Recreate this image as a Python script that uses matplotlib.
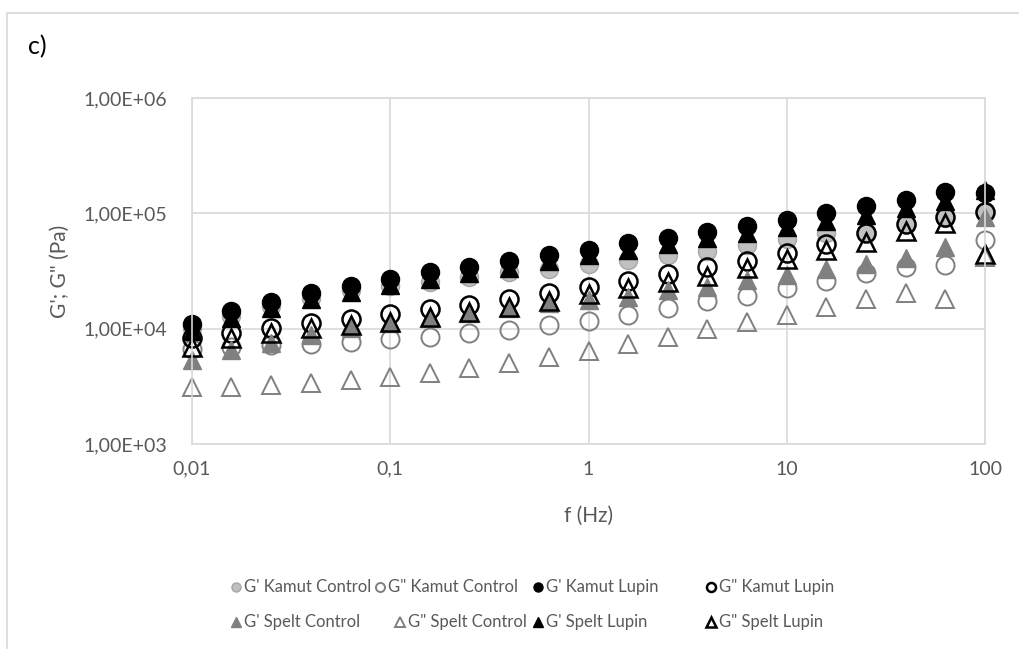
import matplotlib.pyplot as plt
from matplotlib.lines import Line2D
from matplotlib.patches import Rectangle

plt.rcParams['font.family'] = ['Lato', 'DejaVu Sans']

# frequency sweep, 5 points per decade
freq = [0.01, 0.0158, 0.0251, 0.0398, 0.0631, 0.1, 0.158, 0.251, 0.398, 0.631,
        1, 1.58, 2.51, 3.98, 6.31, 10, 15.8, 25.1, 39.8, 63.1, 100]

# storage (G') and loss (G'') moduli, Pa
kamut_ctrl_g1 = [10100, 12900, 15700, 18500, 21700, 23500, 25600, 27900, 30800, 33000, 36400,
                 39400, 43600, 47500, 53200, 60000, 66900, 69000, 80100, 90700, 105000]
kamut_ctrl_g2 = [6670, 6940, 7150, 7300, 7670, 8090, 8520, 9120, 9740, 10800, 11700,
                 13100, 15000, 17500, 19200, 22500, 25900, 30400, 34300, 35700, 59200]
kamut_lup_g1 = [11000, 14200, 17200, 20400, 23500, 27000, 31000, 34500, 38700, 43600, 48200,
                55400, 61500, 69400, 78200, 87700, 101000, 116000, 131000, 153000, 150000]
kamut_lup_g2 = [8300, 9120, 10100, 11100, 12100, 13300, 14700, 16100, 18100, 20300, 22800,
                26100, 29600, 34100, 38700, 45600, 54600, 67200, 80900, 93600, 103000]
spelt_ctrl_g1 = [5350, 6540, 7470, 8820, 10100, 11100, 12300, 13600, 15000, 16600, 17900,
                 19000, 21700, 23100, 26500, 29200, 33000, 36400, 40600, 50600, 92100]
spelt_ctrl_g2 = [3140, 3140, 3250, 3360, 3590, 3840, 4150, 4590, 5070, 5720, 6380,
                 7370, 8520, 9880, 11400, 13100, 15500, 18000, 20500, 18000, 41900]
spelt_lup_g1 = [9550, 12400, 15100, 18100, 20800, 23900, 27000, 30400, 33600, 38700, 43600,
                48200, 54300, 61200, 67600, 76200, 85900, 96800, 111000, 127000, 158000]
spelt_lup_g2 = [6980, 8260, 9120, 10100, 10800, 11500, 12700, 14000, 15500, 17500, 20000,
                22400, 25600, 28700, 33400, 40400, 47900, 56800, 70100, 82600, 44500]

labels = ["G' Kamut Control", 'G" Kamut Control', "G' Kamut Lupin", 'G" Kamut Lupin',
          "G' Spelt Control", 'G" Spelt Control', "G' Spelt Lupin", 'G" Spelt Lupin']
series = [kamut_ctrl_g1, kamut_ctrl_g2, kamut_lup_g1, kamut_lup_g2,
          spelt_ctrl_g1, spelt_ctrl_g2, spelt_lup_g1, spelt_lup_g2]
styles = [
    dict(marker='o', mfc='#c0c0c0', mec='#a6a6a6', mew=1.0),
    dict(marker='o', mfc='none', mec='#808080', mew=1.4),
    dict(marker='o', mfc='black', mec='black', mew=1.0),
    dict(marker='o', mfc='none', mec='black', mew=1.8),
    dict(marker='^', mfc='#808080', mec='#808080', mew=1.0),
    dict(marker='^', mfc='none', mec='#808080', mew=1.4),
    dict(marker='^', mfc='black', mec='black', mew=1.0),
    dict(marker='^', mfc='none', mec='black', mew=1.8),
]

grid_c = '#d9d9d9'
text_c = '#595959'
W, H = 1019, 649

fig = plt.figure(figsize=(W / 100, H / 100), dpi=100)
ax = fig.add_axes([192 / W, 1 - 444 / H, 793 / W, 346 / H])

for vals, lab, st in zip(series, labels, styles):
    ax.plot(freq, vals, linestyle='none', ms=13, label=lab, clip_on=False, **st)

ax.set_xscale('log')
ax.set_yscale('log')
ax.set_xlim(0.01, 100)
ax.set_ylim(1e3, 1e6)
ax.set_xticks([0.01, 0.1, 1, 10, 100])
ax.set_xticklabels(['0,01', '0,1', '1', '10', '100'])
ax.set_yticks([1e3, 1e4, 1e5, 1e6])
ax.set_yticklabels(['1,00E+03', '1,00E+04', '1,00E+05', '1,00E+06'])
ax.minorticks_off()
ax.tick_params(length=0, labelsize=14, colors=text_c)
ax.tick_params(axis='y', pad=18)
ax.tick_params(axis='x', pad=12)
ax.grid(True, color=grid_c, lw=1.2)
ax.set_axisbelow(True)
for s in ax.spines.values():
    s.set_color(grid_c)
    s.set_linewidth(1.2)

ax.set_xlabel('f (Hz)', fontsize=15, color=text_c, labelpad=20)
ax.set_ylabel("G'; G\" (Pa)", fontsize=15, color=text_c, labelpad=10)

fig.text(28 / W, 1 - 47 / H, 'c)', fontsize=18, color='black', va='center')

# outer chart frame
fig.patches.append(Rectangle((7 / W, -0.1), 1.2, 1 - 13 / H + 0.1, transform=fig.transFigure,
                             fill=False, edgecolor=grid_c, lw=1.2))

# legend laid out as two rows of four entries (marker x, row y) in pixels
legend_pos = [(236, 587), (380, 587), (538, 587), (711, 587),
              (236, 622), (400, 622), (538, 622), (711, 622)]
for (px, py), lab, st in zip(legend_pos, labels, styles):
    fig.add_artist(Line2D([px / W], [1 - py / H], transform=fig.transFigure,
                          linestyle='none', ms=6.5, **st))
    fig.text((px + 8) / W, 1 - py / H, lab, fontsize=12, color=text_c, va='center')

fig.savefig('out.png', dpi=100)
